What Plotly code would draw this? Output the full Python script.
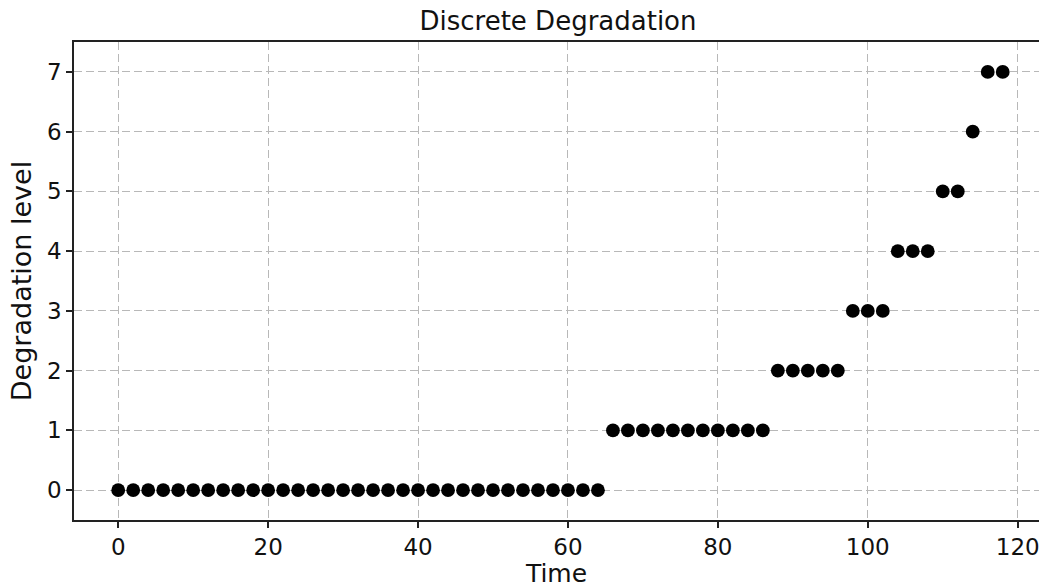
import plotly.graph_objects as go

# Observation times and the discrete degradation state recorded at each
time = [0, 2, 4, 6, 8, 10, 12, 14, 16, 18, 20, 22, 24, 26, 28, 30, 32, 34, 36, 38,
        40, 42, 44, 46, 48, 50, 52, 54, 56, 58, 60, 62, 64,
        66, 68, 70, 72, 74, 76, 78, 80, 82, 84, 86,
        88, 90, 92, 94, 96,
        98, 100, 102,
        104, 106, 108,
        110, 112,
        114,
        116, 118]
level = [0] * 33 + [1] * 11 + [2] * 5 + [3] * 3 + [4] * 3 + [5] * 2 + [6] * 1 + [7] * 2

x_ticks = [0, 20, 40, 60, 80, 100, 120]
y_ticks = [0, 1, 2, 3, 4, 5, 6, 7]

FONT = "DejaVu Sans"

fig = go.Figure(
    go.Scatter(
        x=time,
        y=level,
        mode="markers",
        marker=dict(color="black", size=13.8, line=dict(width=0)),
        showlegend=False,
    )
)

axis_common = dict(
    showline=True,
    linecolor="#222222",
    linewidth=1.5,
    ticks="outside",
    ticklen=6,
    tickwidth=1.5,
    tickcolor="#222222",
    showgrid=True,
    gridcolor="#b8b8b8",
    gridwidth=1,
    griddash="8px,4px",
    zeroline=False,
    ticklabeloverflow="allow",
    tickfont=dict(family=FONT, size=23, color="#111111"),
)

fig.update_layout(
    width=1039,
    height=588,
    margin=dict(l=74, r=0, t=42, b=68),
    paper_bgcolor="white",
    plot_bgcolor="white",
    title=dict(
        text="Discrete Degradation",
        font=dict(family=FONT, size=26, color="#111111"),
        x=558 / 1039,
        xanchor="center",
        xref="container",
        y=1 - 21 / 588,
        yanchor="middle",
        yref="container",
    ),
    xaxis=dict(
        axis_common,
        range=[-5.9, 122.84],
        tickvals=x_ticks,
        ticktext=[str(v) for v in x_ticks],
        mirror=True,
        title=dict(text="Time", font=dict(family=FONT, size=25, color="#111111"), standoff=8),
    ),
    yaxis=dict(
        axis_common,
        range=[-0.5, 7.5],
        tickvals=y_ticks,
        ticktext=[str(v) for v in y_ticks],
        mirror=False,
        title=dict(text="Degradation level", font=dict(family=FONT, size=27, color="#111111"), standoff=8),
    ),
)

fig.write_html("out.html")
